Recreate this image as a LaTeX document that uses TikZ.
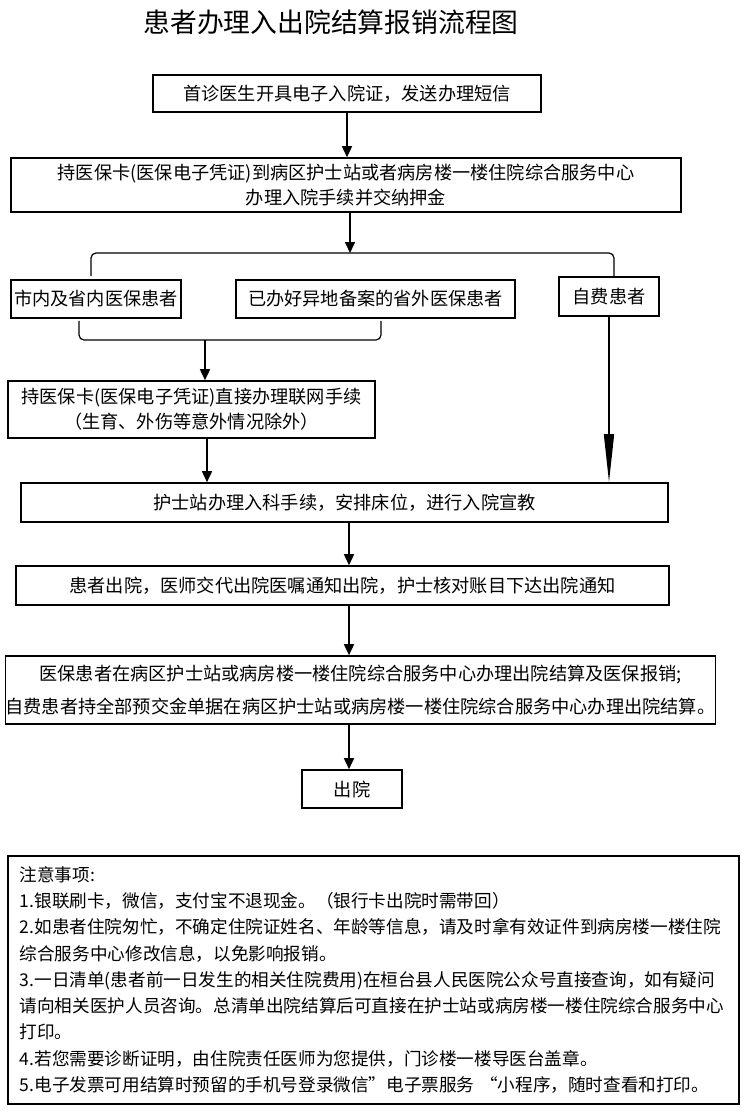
\documentclass[tikz,border=0pt]{standalone}
\usepackage{fontspec}
\setmainfont{Noto Sans CJK SC}
\usetikzlibrary{arrows.meta,positioning,calc}

\tikzset{
  stepbox/.style={draw, line width=1.6pt, inner sep=0pt, align=center,
    font=\fontsize{18.2}{25}\selectfont},
  flow/.style={line width=1.6pt, -{Triangle[length=11pt,width=10pt]}},
  longflow/.style={line width=1.6pt, -{Triangle[length=48pt,width=10pt]}},
  brace/.style={line width=1.2pt, rounded corners=5pt},
}

\begin{document}
\begin{tikzpicture}[x=1pt,y=-1pt]
\useasboundingbox (0,0) rectangle (746,1114);

\node[font=\fontsize{26.8}{30}\selectfont] (title) at (331,22) {患者办理入出院结算报销流程图};

% admission
\node[stepbox, minimum width=388pt, minimum height=37pt] (visit) at (347,93.5)
  {首诊医生开具电子入院证，发送办理短信};
\node[stepbox, minimum width=670pt, minimum height=54pt] (admit) at (346,185)
  {持医保卡(医保电子凭证)到病区护士站或者病房楼一楼住院综合服务中心\\办理入院手续并交纳押金};

% patient kinds
\node[stepbox, minimum width=170pt, minimum height=38pt] (local) at (96,299) {市内及省内医保患者};
\node[stepbox, minimum width=279pt, minimum height=38pt] (remote) at (375.5,299) {已办好异地备案的省外医保患者};
\node[stepbox, minimum width=100pt, minimum height=39pt] (selfpay) at (609,296.5) {自费患者};

\node[stepbox, minimum width=367pt, minimum height=57pt] (network) at (191.5,409.5)
  {持医保卡(医保电子凭证)直接办理联网手续\\（生育、外伤等意外情况除外）};

% ward and discharge
\node[stepbox, minimum width=647pt, minimum height=39pt] (ward) at (344.5,502.5)
  {护士站办理入科手续，安排床位，进行入院宣教};
\node[stepbox, minimum width=653pt, minimum height=39pt] (discharge) at (342.5,585.5)
  {患者出院，医师交代出院医嘱通知出院，护士核对账目下达出院通知};
\node[stepbox, minimum width=709pt, minimum height=68pt] (settle) at (360.5,690)
  {医保患者在病区护士站或病房楼一楼住院综合服务中心办理出院结算及医保报销;\\[8pt]
   自费患者持全部预交金单据在病区护士站或病房楼一楼住院综合服务中心办理出院结算。};
\node[stepbox, minimum width=100pt, minimum height=38pt] (leave) at (352,789) {出院};

% notes
\node[draw, line width=1.6pt, anchor=north west, text width=707pt, inner xsep=12pt,
  inner ysep=0pt, minimum height=248pt, align=left,
  font=\fontsize{17.6}{26.3}\selectfont] (notes) at (7,855)
  {注意事项:\\
   1.银联刷卡，微信，支付宝不退现金。（银行卡出院时需带回）\\
   2.如患者住院匆忙，不确定住院证姓名、年龄等信息，请及时拿有效证件到病房楼一楼住院\\
   综合服务中心修改信息，以免影响报销。\\
   3.一日清单(患者前一日发生的相关住院费用)在桓台县人民医院公众号直接查询，如有疑问\\
   请向相关医护人员咨询。总清单出院结算后可直接在护士站或病房楼一楼住院综合服务中心\\
   打印。\\
   4.若您需要诊断证明，由住院责任医师为您提供，门诊楼一楼导医台盖章。\\
   5.电子发票可用结算时预留的手机号登录微信”电子票服务 “小程序，随时查看和打印。};

\coordinate (spine) at (349,0);
\coordinate (split) at (350,253);
\coordinate (splitL) at (91,253);
\coordinate (splitR) at (614,253);
\coordinate (merge) at (205,340);
\coordinate (mergeL) at (79,340);
\coordinate (mergeR) at (381,340);
\coordinate (leg) at (207,0);

\draw[flow] (visit.south) -- (visit.south |- admit.north);
\draw[flow] (admit.south -| split) -- (split);
\draw[brace] ($(local.north -| splitL)+(0,-3)$) -- (splitL) -- (splitR) -- (selfpay.north -| splitR);
\draw[brace] ($(local.south -| mergeL)+(0,2)$) -- (mergeL) -- (mergeR) -- ($(remote.south -| mergeR)+(0,2)$);
\draw[flow] (merge) -- (merge |- network.north);
\draw[flow] (network.south -| leg) -- (ward.north -| leg);
\draw[longflow] (selfpay.south) -- (selfpay.south |- ward.north);
\draw[flow] (ward.south -| spine) -- (discharge.north -| spine);
\draw[flow] (discharge.south -| spine) -- (settle.north -| spine);
\draw[flow] (settle.south -| spine) -- (leave.north -| spine);
\end{tikzpicture}
\end{document}
